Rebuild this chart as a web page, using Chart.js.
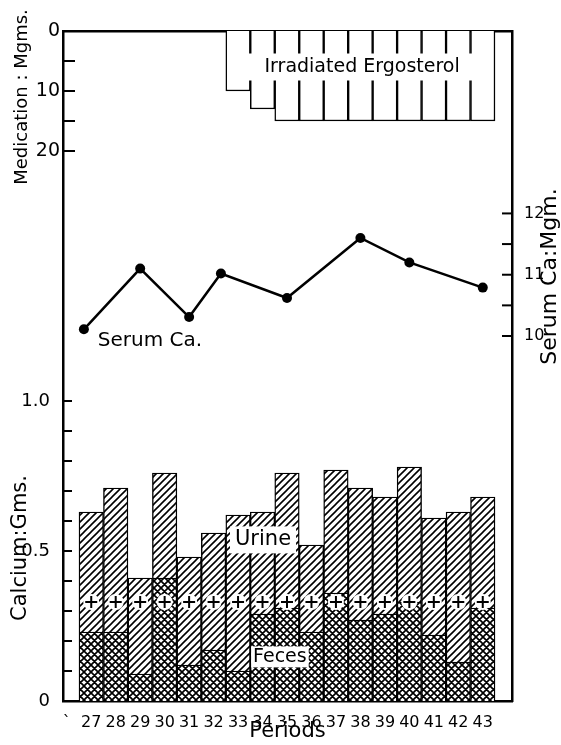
<!DOCTYPE html>
<html>
<head>
<meta charset="utf-8">
<script src="https://cdn.jsdelivr.net/npm/chart.js@4"></script>
<style>
  html, body { margin: 0; padding: 0; background: #fff; }
  canvas { display: block; }
</style>
</head>
<body>
<canvas id="myChart" width="561" height="745"></canvas>
<script>
// calcium output per period (gms)
const periods = [27, 28, 29, 30, 31, 32, 33, 34, 35, 36, 37, 38, 39, 40, 41, 42, 43];
const feces = [0.23, 0.23, 0.09, 0.41, 0.12, 0.17, 0.10, 0.29, 0.31, 0.23, 0.36, 0.27, 0.29, 0.33, 0.22, 0.13, 0.31];
const urine = [0.40, 0.48, 0.32, 0.35, 0.36, 0.39, 0.52, 0.34, 0.45, 0.29, 0.41, 0.44, 0.39, 0.45, 0.39, 0.50, 0.37];
const intake = [0.33, 0.33, 0.33, 0.33, 0.33, 0.33, 0.33, 0.33, 0.33, 0.33, 0.33, 0.33, 0.33, 0.33, 0.33, 0.33, 0.33];

// serum calcium (mgm.)
const serumPeriods = [26.7, 29, 31, 32.3, 35, 38, 40, 43];
const serumCa = [10.11, 11.10, 10.31, 11.02, 10.62, 11.60, 11.20, 10.79];

// irradiated ergosterol (mgms.)
const medPeriods = [33, 34, 35, 36, 37, 38, 39, 40, 41, 42, 43];
const medDose = [10, 13, 15, 15, 15, 15, 15, 15, 15, 15, 15];

// tick labels
const periodTicks = [26, 27, 28, 29, 30, 31, 32, 33, 34, 35, 36, 37, 38, 39, 40, 41, 42, 43];
const periodTickLabels = ['`', '27', '28', '29', '30', '31', '32', '33', '34', '35', '36', '37', '38', '39', '40', '41', '42', '43'];
const calciumTicks = [0, 0.1, 0.2, 0.3, 0.4, 0.5, 0.6, 0.7, 0.8, 0.9, 1.0];
const calciumTickLabels = ['0', '', '', '', '', '0.5', '', '', '', '', '1.0'];
const medTicks = [0, 5, 10, 15, 20];
const medTickLabels = ['0', '', '10', '', '20'];
const serumTicks = [10, 10.5, 11, 11.5, 12];
const serumTickLabels = ['10', '', '11', '', '12'];

const FONT = '"DejaVu Sans", sans-serif';
Chart.defaults.font.family = FONT;
Chart.defaults.color = '#000';

function hatch(size, width, cross) {
    const c = document.createElement('canvas');
    c.width = c.height = size;
    const g = c.getContext('2d');
    g.fillStyle = '#fff';
    g.fillRect(0, 0, size, size);
    g.strokeStyle = '#000';
    g.lineWidth = width;
    g.lineCap = 'square';
    g.beginPath();
    g.moveTo(0, size); g.lineTo(size, 0);
    g.moveTo(-1, 1); g.lineTo(1, -1);
    g.moveTo(size - 1, size + 1); g.lineTo(size + 1, size - 1);
    if (cross) {
        g.moveTo(0, 0); g.lineTo(size, size);
        g.moveTo(-1, size - 1); g.lineTo(1, size + 1);
        g.moveTo(size - 1, -1); g.lineTo(size + 1, 1);
    }
    g.stroke();
    return g.createPattern(c, 'repeat');
}

const notes = [
    { text: 'Irradiated Ergosterol', x: 38.07, y: 6, axis: 'med', size: 19, padX: 16, padY: 4 },
    { text: 'Urine', x: 34.02, y: 0.537, axis: 'y', size: 21, padX: 5, padY: 3 },
    { text: 'Feces', x: 34.71, y: 0.147, axis: 'y', size: 19, padX: 2, padY: 1 },
    { text: 'Serum Ca.', x: 29.4, y: 9.93, axis: 'serum', size: 20 },
];

const sideTitles = [
    { text: 'Medication : Mgms.', x: 22, y: 11, axis: 'med', size: 18 },
    { text: 'Calcium:Gms.', x: 21, y: 0.51, axis: 'y', size: 21 },
    { text: 'Serum Ca:Mgm.', x: 550, y: 10.97, axis: 'serum', size: 22 },
];

const decorations = {
    id: 'decorations',
    afterDraw(chart) {
        const { ctx, chartArea: a, scales } = chart;
        ctx.save();
        ctx.strokeStyle = '#000';
        ctx.lineWidth = 2;
        // tick marks point into the plot
        [['y', 9], ['med', 12]].forEach(([id, len]) => {
            scales[id].ticks.forEach(t => {
                const py = scales[id].getPixelForValue(t.value);
                ctx.beginPath(); ctx.moveTo(a.left, py); ctx.lineTo(a.left + len, py); ctx.stroke();
            });
        });
        scales.serum.ticks.forEach(t => {
            const py = scales.serum.getPixelForValue(t.value);
            ctx.beginPath(); ctx.moveTo(a.right, py); ctx.lineTo(a.right - 10, py); ctx.stroke();
        });

        // medication tick labels share the left edge with the calcium labels
        ctx.font = '19px ' + FONT;
        ctx.fillStyle = '#000';
        ctx.textAlign = 'right';
        ctx.textBaseline = 'middle';
        medTicks.forEach((v, i) => {
            ctx.fillText(medTickLabels[i], a.left - 3, scales.med.getPixelForValue(v));
        });

        ctx.textAlign = 'center';
        notes.forEach(n => {
            const px = scales.x.getPixelForValue(n.x);
            const py = scales[n.axis].getPixelForValue(n.y);
            ctx.font = n.size + 'px ' + FONT;
            if (n.padX !== undefined) {
                const w = ctx.measureText(n.text).width;
                ctx.fillStyle = '#fff';
                ctx.fillRect(px - w / 2 - n.padX, py - n.size / 2 - n.padY, w + 2 * n.padX, n.size + 2 * n.padY);
            }
            ctx.fillStyle = '#000';
            ctx.fillText(n.text, px, py);
        });

        sideTitles.forEach(t => {
            const py = scales[t.axis].getPixelForValue(t.y);
            ctx.save();
            ctx.translate(t.x, py);
            ctx.rotate(-Math.PI / 2);
            ctx.font = t.size + 'px ' + FONT;
            ctx.fillStyle = '#000';
            ctx.fillText(t.text, 0, 0);
            ctx.restore();
        });
        ctx.restore();
    }
};

const xMin = 25.846;
const xMax = 44.195;

const myChart = new Chart('myChart', {
    type: 'bar',
    data: {
        datasets: [
            {
                label: 'Feces',
                data: periods.map((p, i) => ({ x: p, y: feces[i] })),
                yAxisID: 'y',
                stack: 'ca',
                backgroundColor: hatch(7, 1.7, true),
                borderColor: '#000',
                borderWidth: 1.4,
                barPercentage: 1,
                categoryPercentage: 1,
                order: 3,
            },
            {
                label: 'Urine',
                data: periods.map((p, i) => ({ x: p, y: urine[i] })),
                yAxisID: 'y',
                stack: 'ca',
                backgroundColor: hatch(7, 1.6, false),
                borderColor: '#000',
                borderWidth: 1.4,
                barPercentage: 1,
                categoryPercentage: 1,
                order: 3,
            },
            {
                label: 'Irradiated Ergosterol',
                data: medPeriods.map((p, i) => ({ x: p, y: medDose[i] })),
                yAxisID: 'med',
                grouped: false,
                backgroundColor: '#fff',
                borderColor: '#000',
                borderWidth: 1.5,
                borderSkipped: 'start',
                barPercentage: 1,
                categoryPercentage: 1,
                order: 2,
            },
            {
                type: 'line',
                label: 'halo',
                data: periods.map((p, i) => ({ x: p, y: intake[i] })),
                yAxisID: 'y',
                showLine: false,
                pointStyle: 'circle',
                pointRadius: 8,
                pointBackgroundColor: '#fff',
                pointBorderWidth: 0,
                order: 1,
            },
            {
                type: 'line',
                label: 'Intake',
                data: periods.map((p, i) => ({ x: p, y: intake[i] })),
                yAxisID: 'y',
                showLine: false,
                pointStyle: 'cross',
                pointRadius: 6,
                pointBorderColor: '#000',
                pointBorderWidth: 2,
                order: 0,
            },
            {
                type: 'line',
                label: 'Serum Ca.',
                data: serumPeriods.map((p, i) => ({ x: p, y: serumCa[i] })),
                yAxisID: 'serum',
                borderColor: '#000',
                borderWidth: 2.5,
                pointRadius: 5,
                pointBackgroundColor: '#000',
                pointBorderWidth: 0,
                tension: 0,
                order: 0,
            },
        ]
    },
    options: {
        responsive: false,
        animation: false,
        layout: { padding: { top: 31, left: 0, right: 0, bottom: 0 } },
        plugins: { legend: { display: false }, tooltip: { enabled: false } },
        scales: {
            x: {
                type: 'linear',
                position: 'bottom',
                offset: false,
                min: xMin,
                max: xMax,
                afterBuildTicks: s => { s.ticks = periodTicks.map(v => ({ value: v })); },
                ticks: {
                    callback: (v, i) => periodTickLabels[i],
                    autoSkip: false,
                    maxRotation: 0,
                    padding: 4,
                    font: { size: 16 },
                },
                grid: { display: false },
                border: { display: true, color: '#000', width: 2.5 },
                title: { display: true, text: 'Periods', font: { size: 21 }, padding: { top: 0, bottom: 1 } },
                afterFit: s => { s.height = 44; },
            },
            xTop: {
                type: 'linear',
                position: 'top',
                offset: false,
                min: xMin,
                max: xMax,
                ticks: { display: false },
                grid: { display: false },
                border: { display: true, color: '#000', width: 2.5 },
                afterFit: s => { s.height = 0; },
            },
            y: {
                type: 'linear',
                position: 'left',
                weight: 0,
                min: 0,
                max: 2.2333,
                afterBuildTicks: s => { s.ticks = calciumTicks.map(v => ({ value: v })); },
                ticks: { callback: (v, i) => calciumTickLabels[i], padding: 5, font: { size: 18 } },
                grid: { display: false },
                border: { display: true, color: '#000', width: 2.5 },
                afterFit: s => { s.width = 63; },
            },
            med: {
                type: 'linear',
                position: 'left',
                weight: 1,
                reverse: true,
                min: 0,
                max: 111.67,
                afterBuildTicks: s => { s.ticks = medTicks.map(v => ({ value: v })); },
                ticks: { display: false },
                grid: { display: false },
                border: { display: false },
                afterFit: s => { s.width = 0; },
            },
            serum: {
                type: 'linear',
                position: 'right',
                min: 4.046,
                max: 14.976,
                afterBuildTicks: s => { s.ticks = serumTicks.map(v => ({ value: v })); },
                ticks: { callback: (v, i) => serumTickLabels[i], padding: 4, font: { size: 16 } },
                grid: { display: false },
                border: { display: true, color: '#000', width: 2.5 },
                afterFit: s => { s.width = 49; },
            },
        }
    },
    plugins: [decorations]
});
</script>
</body>
</html>
